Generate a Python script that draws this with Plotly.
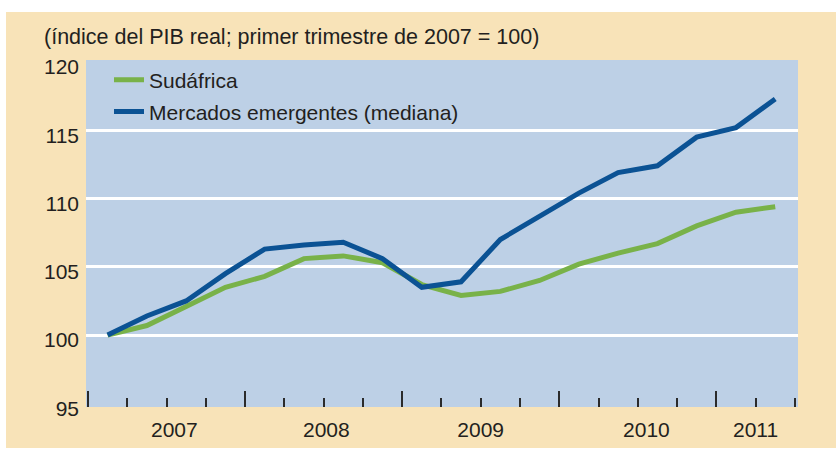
import numpy as np
import plotly.graph_objects as go

# ---- data ----
quarters = ["2007T1", "2007T2", "2007T3", "2007T4",
            "2008T1", "2008T2", "2008T3", "2008T4",
            "2009T1", "2009T2", "2009T3", "2009T4",
            "2010T1", "2010T2", "2010T3", "2010T4",
            "2011T1", "2011T2"]
sudafrica = [100.0, 100.7, 102.1, 103.5, 104.3, 105.6, 105.8, 105.3, 103.7,
             102.9, 103.2, 104.0, 105.2, 106.0, 106.7, 108.0, 109.0, 109.4]
emergentes = [100.0, 101.4, 102.5, 104.5, 106.3, 106.6, 106.8, 105.6, 103.5,
              103.9, 107.0, 108.7, 110.4, 111.9, 112.4, 114.5, 115.2, 117.3]
year_labels = ["2007", "2008", "2009", "2010", "2011"]
y_ticks = [95, 100, 105, 110, 115, 120]
grid_vals = [100, 105, 110, 115]
title_text = "(índice del PIB real; primer trimestre de 2007 = 100)"

# quarter index -> centre of the quarter on a numeric axis
xq = np.arange(len(quarters)) + 0.5

# the beige panel (figure) sits at offset (6, 12) in the 836x450 window
OX, OY = 6, 12
W, H = 830, 436
ML, MR, MT, MB = 80, 38, 48, 41
PW, PH = W - ML - MR, H - MT - MB

def px_x(p):  # window pixel -> paper coordinate
    return (p - OX - ML) / PW

def px_y(p):
    return (H - MB - (p - OY)) / PH

FONT = "Liberation Sans, Arial, sans-serif"
TXT = "#231f20"
BEIGE = "#f8e3b8"
PLOTBG = "#bdd0e6"
GREEN = "#79b249"
BLUE = "#0b5294"

fig = go.Figure()
fig.add_trace(go.Scatter(
    x=xq, y=sudafrica, mode="lines", name="Sudáfrica",
    line=dict(color=GREEN, width=5), legendgroup="a",
    customdata=quarters, hovertemplate="%{customdata}: %{y}<extra></extra>"))
fig.add_trace(go.Scatter(
    x=xq, y=emergentes, mode="lines", name="Mercados emergentes (mediana)",
    line=dict(color=BLUE, width=5), legendgroup="b",
    customdata=quarters, hovertemplate="%{customdata}: %{y}<extra></extra>"))
# invisible trace to make the label axes render
fig.add_trace(go.Scatter(x=[xq[0]], y=[sudafrica[0]], xaxis="x2", yaxis="y2",
                         mode="markers", marker=dict(opacity=0),
                         showlegend=False, hoverinfo="skip"))

xr = [-0.05, 18.08]
yr = [94.73, 120.15]
n = len(quarters)

fig.update_layout(
    width=W, height=H,
    margin=dict(l=ML, r=MR, t=MT, b=MB, autoexpand=False),
    paper_bgcolor=BEIGE, plot_bgcolor=PLOTBG,
    font=dict(family=FONT, size=21, color=TXT),
    showlegend=True,
    legend=dict(x=px_x(109), y=px_y(59.5), xanchor="left", yanchor="top",
                bgcolor="rgba(0,0,0,0)", font=dict(size=21, color=TXT),
                tracegroupgap=1.5, itemclick=False, itemdoubleclick=False),
    xaxis=dict(range=xr, showgrid=False, zeroline=False, showline=False,
               tickmode="array", tickvals=list(range(0, n + 1, 4)),
               ticks="inside", ticklen=16, tickwidth=2, tickcolor="#2b2b2b",
               showticklabels=False,
               minor=dict(tickmode="array", tickvals=list(range(0, n + 1)),
                          ticks="inside", ticklen=9, tickwidth=2,
                          tickcolor="#2b2b2b", showgrid=False)),
    yaxis=dict(range=yr, showgrid=True, gridcolor="white", gridwidth=3,
               zeroline=False, showline=False, tickmode="array",
               tickvals=grid_vals, showticklabels=False, ticks=""),
    xaxis2=dict(range=xr, overlaying="x", anchor="y2", side="bottom",
                showgrid=False, zeroline=False, showline=False, ticks="",
                tickmode="array", tickvals=[2.2, 6.07, 10.0, 14.22, 17.0],
                ticktext=year_labels, ticklabelstandoff=8,
                tickfont=dict(size=21, color=TXT)),
    yaxis2=dict(range=yr, overlaying="y", anchor="x2", side="left",
                showgrid=False, zeroline=False, showline=False, ticks="",
                tickmode="array", tickvals=y_ticks,
                ticktext=[str(v) for v in y_ticks],
                ticklabelstandoff=6, ticklabelshift=5,
                tickfont=dict(size=21, color=TXT)),
    annotations=[dict(text=title_text, xref="paper", yref="paper",
                      x=px_x(42), y=px_y(37), xanchor="left", yanchor="middle",
                      showarrow=False, font=dict(size=21.5, color=TXT))],
)

fig.write_html("out.html",
               config={"displayModeBar": False},
               post_script="document.body.style.margin='0';"
                           "document.body.style.padding='%dpx 0 0 %dpx';"
                           "document.body.style.background='white';"
                           "document.body.style.overflow='hidden';" % (OY, OX))
